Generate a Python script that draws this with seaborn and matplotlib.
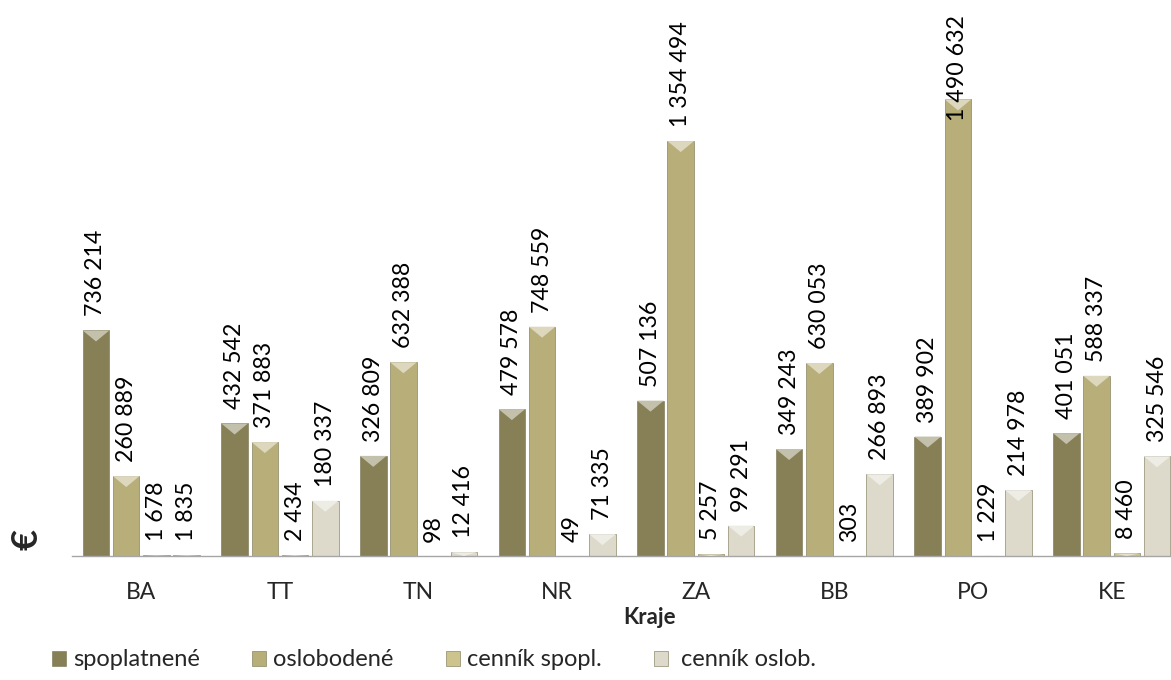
import pandas as pd
import matplotlib.pyplot as plt
import seaborn as sns
from matplotlib.patches import Patch, Polygon
from matplotlib.colors import to_rgb

# data
kraje = ['BA', 'TT', 'TN', 'NR', 'ZA', 'BB', 'PO', 'KE']
serie = ['spoplatnené', 'oslobodené', 'cenník spopl.', ' cenník oslob.']
spoplatnene = [736214, 432542, 326809, 479578, 507136, 349243, 389902, 401051]
oslobodene = [260889, 371883, 632388, 748559, 1354494, 630053, 1490632, 588337]
cennik_spopl = [1678, 2434, 98, 49, 5257, 303, 1229, 8460]
cennik_oslob = [1835, 180337, 12416, 71335, 99291, 266893, 214978, 325546]

farby = ['#878057', '#b8ae7a', '#cdc38c', '#dddacb']
hodnoty = [spoplatnene, oslobodene, cennik_spopl, cennik_oslob]

rows = []
for s, vals in zip(serie, hodnoty):
    for k, v in zip(kraje, vals):
        rows.append({'kraj': k, 'seria': s, 'suma': v})
df = pd.DataFrame(rows)

sns.set_style('white')
plt.rcParams['font.family'] = ['Lato', 'DejaVu Sans']

fig = plt.figure(figsize=(11.71, 6.8), dpi=100)
W, H = 1171, 680
ax = fig.add_axes([72 / W, 124 / H, 1109 / W, 556 / H])

sns.barplot(data=df, x='kraj', y='suma', hue='seria', order=kraje, hue_order=serie,
            palette=farby, saturation=1, width=0.872, gap=0.12, ax=ax, legend=False,
            edgecolor='#77714f', linewidth=0.4)

ax.set_xlim(-0.5, len(kraje) - 0.5)
ax.set_ylim(0, 1.815e6)

# light bevel on top of each bar
def lighter(c, f):
    r, g, b = to_rgb(c)
    return (r + (1 - r) * f, g + (1 - g) * f, b + (1 - b) * f)

per_px = 1.815e6 / 556
for cont, col in zip(ax.containers, farby):
    for bar in cont:
        x0 = bar.get_x()
        w = bar.get_width()
        h = bar.get_height()
        d = min(11 * per_px, h)
        tri = Polygon([(x0, h), (x0 + w, h), (x0 + w / 2, h - d)], closed=True,
                      facecolor=lighter(col, 0.5), edgecolor='none', zorder=3)
        ax.add_patch(tri)

# value labels
texty = []
for cont, vals in zip(ax.containers, hodnoty):
    for bar, v in zip(cont, vals):
        t = ax.annotate(f'{v:,}'.replace(',', ' '),
                        (bar.get_x() + bar.get_width() / 2, bar.get_height()),
                        xytext=(0, 14), textcoords='offset pixels',
                        rotation=90, ha='center', va='bottom', fontsize=16.7,
                        color='black', zorder=5, annotation_clip=False)
        texty.append(t)

# axis look
sns.despine(ax=ax, left=True, top=True, right=True)
ax.spines['bottom'].set_color('#a6a6a6')
ax.spines['bottom'].set_linewidth(1.0)
ax.set_yticks([])
ax.set_xticks(range(len(kraje)))
ax.set_xticklabels(kraje, fontsize=16.5)
ax.set_xticks([i - 0.5 for i in range(len(kraje) + 1)], minor=True)
ax.tick_params(axis='x', which='major', length=0, pad=19)
ax.tick_params(axis='x', which='minor', length=8, color='#a6a6a6', width=1.0, direction='out')

ax.set_xlabel('Kraje', fontsize=16, fontweight='bold')
ax.xaxis.set_label_coords((650 - 72) / 1109, (556 - 617) / 556)
ax.xaxis.label.set_va('center')
ax.set_ylabel('€', fontsize=26, fontweight='bold', rotation=90)
ax.yaxis.set_label_coords((27 - 72) / 1109, (556 - 540) / 556)
ax.yaxis.label.set_va('center')

handles = [Patch(facecolor=c, edgecolor='#77714f', linewidth=0.4) for c in farby]
fig.legend(handles, serie, loc='center left', bbox_to_anchor=(52 / W, 20 / H),
           ncol=4, frameon=False, fontsize=17, borderpad=0, borderaxespad=0,
           handlelength=0.6, handleheight=0.6, handletextpad=0.3, columnspacing=2.2)

# keep long labels inside the picture (pushed down like in the original)
fig.canvas.draw()
r = fig.canvas.get_renderer()
limit = H - 15
for t in texty:
    ext = t.get_window_extent(r)
    if ext.y1 > limit:
        ox, oy = t.xyann
        t.xyann = (ox, oy - (ext.y1 - limit))

fig.savefig('out.png', dpi=100)
